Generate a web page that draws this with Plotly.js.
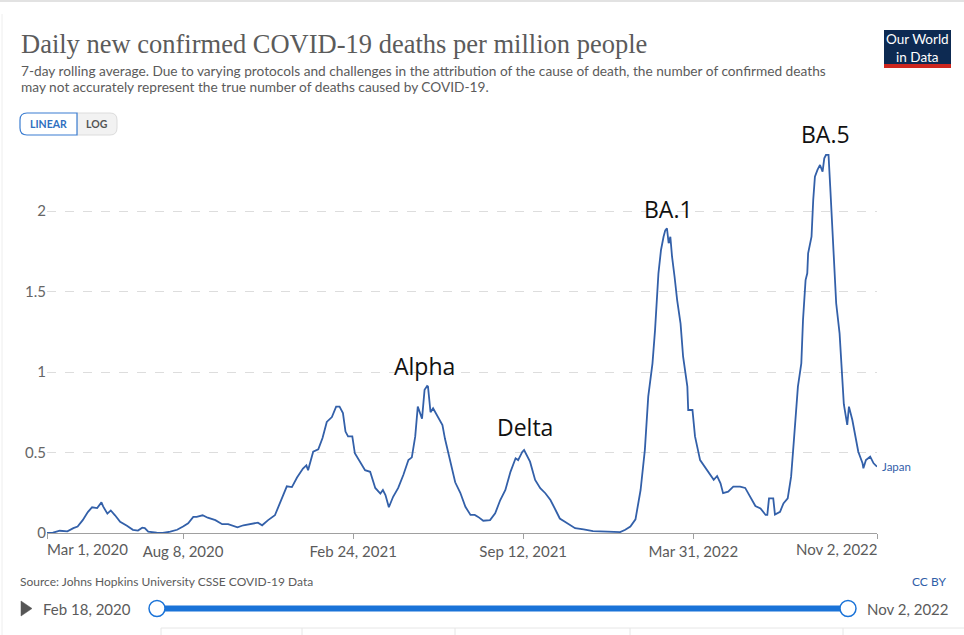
<!DOCTYPE html>
<html><head><meta charset="utf-8">
<script src="https://cdn.plot.ly/plotly-3.0.1.min.js"></script>
<style>html,body{margin:0;padding:0;background:#fff}#chart{width:964px;height:635px}</style>
</head><body><div id="chart"></div>
<script>
const dates = [
'2020-03-01','2020-03-08','2020-03-16','2020-03-25','2020-04-01','2020-04-06','2020-04-12','2020-04-18','2020-04-23','2020-04-29',
'2020-05-04','2020-05-06','2020-05-11','2020-05-15','2020-05-20','2020-05-26','2020-06-03','2020-06-10','2020-06-16','2020-06-21',
'2020-06-24','2020-06-28','2020-07-08','2020-07-15','2020-07-24','2020-08-01','2020-08-08','2020-08-14','2020-08-20','2020-08-24',
'2020-08-31','2020-09-06','2020-09-15','2020-09-23','2020-09-30','2020-10-11','2020-10-18','2020-10-28','2020-11-04','2020-11-09',
'2020-11-16','2020-11-24','2020-11-30','2020-12-08','2020-12-14','2020-12-20','2020-12-27','2020-12-31','2021-01-02','2021-01-08',
'2021-01-14','2021-01-19','2021-01-24','2021-01-30','2021-02-04','2021-02-08','2021-02-12','2021-02-15','2021-02-18','2021-02-23',
'2021-02-26','2021-03-04','2021-03-10','2021-03-16','2021-03-22','2021-03-28','2021-03-31','2021-04-03','2021-04-07','2021-04-12',
'2021-04-18','2021-04-24','2021-04-30','2021-05-04','2021-05-08','2021-05-11','2021-05-16','2021-05-19','2021-05-22','2021-05-23',
'2021-05-26','2021-05-29','2021-06-03','2021-06-09','2021-06-12','2021-06-18','2021-06-24','2021-06-30','2021-07-06','2021-07-12',
'2021-07-17','2021-07-21','2021-07-27','2021-08-04','2021-08-10','2021-08-16','2021-08-22','2021-08-28','2021-09-03','2021-09-06',
'2021-09-11','2021-09-13','2021-09-17','2021-09-20','2021-09-26','2021-10-02','2021-10-08','2021-10-14','2021-10-20','2021-10-25',
'2021-10-31','2021-11-06','2021-11-12','2021-11-22','2021-12-03','2021-12-20','2022-01-04','2022-01-10','2022-01-16','2022-01-22',
'2022-01-28','2022-02-02','2022-02-06','2022-02-11','2022-02-14','2022-02-18','2022-02-21','2022-02-24','2022-02-26','2022-02-28',
'2022-03-02','2022-03-04','2022-03-06','2022-03-09','2022-03-12','2022-03-16','2022-03-19','2022-03-24','2022-03-25','2022-03-30',
'2022-04-02','2022-04-08','2022-04-16','2022-04-24','2022-04-28','2022-05-02','2022-05-05','2022-05-11','2022-05-17','2022-05-25',
'2022-05-31','2022-06-06','2022-06-12','2022-06-18','2022-06-24','2022-06-26','2022-06-28','2022-07-03','2022-07-05','2022-07-11',
'2022-07-15','2022-07-20','2022-07-24','2022-07-27','2022-07-29','2022-08-01','2022-08-05','2022-08-07','2022-08-10','2022-08-12',
'2022-08-13','2022-08-17','2022-08-19','2022-08-21','2022-08-24','2022-08-27','2022-08-30','2022-09-01','2022-09-03','2022-09-06',
'2022-09-08','2022-09-12','2022-09-15','2022-09-19','2022-09-22','2022-09-24','2022-09-28','2022-09-30','2022-10-04','2022-10-08',
'2022-10-11','2022-10-16','2022-10-17','2022-10-20','2022-10-25','2022-10-29','2022-11-02'
];
const deathsPerMillion = [
0,0.002,0.014,0.01,0.03,0.04,0.08,0.13,0.16,0.155,
0.19,0.165,0.12,0.14,0.11,0.07,0.045,0.02,0.015,0.033,
0.03,0.008,0.002,0,0.008,0.02,0.04,0.06,0.1,0.1,
0.11,0.095,0.08,0.055,0.055,0.035,0.048,0.055,0.064,0.048,
0.08,0.11,0.185,0.29,0.285,0.345,0.40,0.42,0.39,0.505,
0.52,0.59,0.69,0.72,0.785,0.785,0.745,0.63,0.6,0.6,
0.495,0.443,0.39,0.38,0.28,0.245,0.267,0.236,0.16,0.225,
0.28,0.36,0.453,0.47,0.6,0.785,0.71,0.89,0.913,0.91,
0.75,0.775,0.73,0.67,0.585,0.44,0.315,0.25,0.163,0.112,
0.112,0.1,0.076,0.08,0.122,0.205,0.267,0.38,0.464,0.453,
0.505,0.515,0.474,0.443,0.33,0.278,0.247,0.205,0.143,0.09,
0.07,0.05,0.03,0.023,0.012,0.008,0.006,0.02,0.04,0.085,
0.267,0.515,0.847,1.054,1.26,1.613,1.758,1.84,1.88,1.893,
1.80,1.84,1.716,1.59,1.447,1.30,1.095,0.909,0.764,0.764,
0.6,0.453,0.39,0.33,0.354,0.309,0.247,0.257,0.288,0.288,
0.28,0.225,0.168,0.153,0.112,0.112,0.215,0.215,0.115,0.132,
0.184,0.215,0.35,0.557,0.722,0.909,1.054,1.323,1.571,1.613,
1.737,1.84,2.068,2.213,2.255,2.286,2.244,2.327,2.348,2.348,
2.151,1.737,1.427,1.24,0.992,0.80,0.671,0.785,0.702,0.578,
0.505,0.433,0.402,0.453,0.474,0.433,0.412
];
const countryName = 'Japan';
const tickDates = ['2020-03-01','2020-08-08','2021-02-24','2021-09-12','2022-03-31','2022-11-02'];
const tickLabels = ['Mar 1, 2020','Aug 8, 2020','Feb 24, 2021','Sep 12, 2021','Mar 31, 2022','Nov 2, 2022'];
const yTicks = [0, 0.5, 1, 1.5, 2];
const yTickLabels = ['0', '0.5', '1', '1.5', '2'];
const variantNames = ['Alpha', 'Delta', 'BA.1', 'BA.5'];
const variantDates = ['2021-05-19', '2021-09-14', '2022-03-02', '2022-09-03'];
const variantLevels = [1.04, 0.66, 2.01, 2.48];
const titleText = 'Daily new confirmed COVID-19 deaths per million people';
const subtitleLines = [
  '7-day rolling average. Due to varying protocols and challenges in the attribution of the cause of death, the number of confirmed deaths',
  'may not accurately represent the true number of deaths caused by COVID-19.'
];
const sourceText = 'Source: Johns Hopkins University CSSE COVID-19 Data';
const timelineStart = 'Feb 18, 2020';
const timelineEnd = 'Nov 2, 2022';

// pixel -> paper helpers (layout only)
const L = 47, R = 877, T = 143, B = 533;
const yMax = (B - T) / 161;
const px = X => (X - L) / (R - L);
const py = Y => (B - Y) / (B - T);

const lineColor = '#3360a9';
const grey = '#5b5b5b';
const blue = '#1a73d8';

const trace = {
  x: dates, y: deathsPerMillion, type: 'scatter', mode: 'lines',
  line: {color: lineColor, width: 1.8}, hoverinfo: 'skip', name: countryName
};

function txt(text, X, Y, opts) {
  return Object.assign({
    text: text, xref: 'paper', yref: 'paper', x: px(X), y: py(Y),
    xanchor: 'left', yanchor: 'middle', showarrow: false,
    font: {family: 'Lato', size: 13, color: grey}
  }, opts || {});
}
function rectP(x0, y0, x1, y1, fill, lineC, lw) {
  return {type: 'rect', xref: 'paper', yref: 'paper', x0: px(x0), x1: px(x1), y0: py(y0), y1: py(y1),
    fillcolor: fill, line: {color: lineC || fill, width: lw === undefined ? 0 : lw}, layer: 'above'};
}
function P(X, Y) { return px(X) + ',' + py(Y); }
function pathP(d, fill, lineC, lw) {
  return {type: 'path', xref: 'paper', yref: 'paper', path: d, fillcolor: fill,
    line: {color: lineC, width: lw}, layer: 'above'};
}
function lineP(x0, y0, x1, y1, c, w) {
  return {type: 'line', xref: 'paper', yref: 'paper', x0: px(x0), x1: px(x1), y0: py(y0), y1: py(y1),
    line: {color: c, width: w}, layer: 'above'};
}

const annotations = [
  txt(titleText, 19, 44, {font: {family: 'Liberation Serif', size: 26.5, color: grey}}),
  txt(subtitleLines[0], 19, 70, {font: {family: 'Lato', size: 13.7, color: grey}}),
  txt(subtitleLines[1], 19, 86, {font: {family: 'Lato', size: 13.7, color: grey}}),
  txt('LINEAR', 48.5, 124, {xanchor: 'center', font: {family: 'Lato', size: 10.5, color: '#2f6fc0', weight: 700}}),
  txt('LOG', 97, 124, {xanchor: 'center', font: {family: 'Lato', size: 10.5, color: '#555', weight: 700}}),
  txt('Our World<br>in Data', 917.5, 47.5, {xanchor: 'center', font: {family: 'Lato', size: 13.5, color: '#ffffff'}}),
  txt(sourceText, 18, 581, {font: {family: 'Lato', size: 12, color: grey}}),
  txt('CC BY', 948, 581, {xanchor: 'right', font: {family: 'Lato', size: 12, color: '#2f5ea8'}}),
  txt(timelineStart, 41, 609, {font: {family: 'Lato', size: 15, color: grey}}),
  txt(timelineEnd, 950, 609, {xanchor: 'right', font: {family: 'Lato', size: 15, color: grey}}),
  {text: tickLabels[0], xref: 'x', yref: 'paper', x: tickDates[0], y: py(549), xanchor: 'left', yanchor: 'middle',
    showarrow: false, xshift: -2, font: {family: 'Lato', size: 15, color: grey}},
  {text: tickLabels[5], xref: 'x', yref: 'paper', x: tickDates[5], y: py(549), xanchor: 'right', yanchor: 'middle',
    showarrow: false, xshift: 2, font: {family: 'Lato', size: 15, color: grey}},
  {text: countryName, xref: 'x', yref: 'y', x: dates[dates.length - 1], y: deathsPerMillion[deathsPerMillion.length - 1],
    xanchor: 'left', yanchor: 'middle', xshift: 3, showarrow: false, font: {family: 'Lato', size: 11.5, color: lineColor}}
];
variantNames.forEach((n, i) => annotations.push({
  text: n, xref: 'x', yref: 'paper', x: variantDates[i], y: variantLevels[i] / yMax, xanchor: 'center', yanchor: 'middle',
  showarrow: false, font: {family: 'Open Sans', size: 23, color: '#111'}
}));

const r = 7;
const shapes = [
  lineP(0, 1, 964, 1, '#e2e2e2', 2),
  lineP(2, 14, 2, 635, '#eeeeee', 1),
  rectP(884, 30, 951, 64, '#0d2a52'),
  rectP(884, 64, 951, 68, '#ce261e'),
  // LOG button (right part, rounded right)
  pathP('M' + P(77, 113) + ' L' + P(117 - r, 113) + ' Q' + P(117, 113) + ' ' + P(117, 113 + r) +
        ' L' + P(117, 135 - r) + ' Q' + P(117, 135) + ' ' + P(117 - r, 135) + ' L' + P(77, 135) + ' Z',
        '#f2f2f2', '#dcdcdc', 1),
  // LINEAR button (left part, rounded left)
  pathP('M' + P(77, 113) + ' L' + P(20 + r, 113) + ' Q' + P(20, 113) + ' ' + P(20, 113 + r) +
        ' L' + P(20, 135 - r) + ' Q' + P(20, 135) + ' ' + P(20 + r, 135) + ' L' + P(77, 135) + ' Z',
        '#ffffff', '#3b7dd1', 1.2),
  // play triangle
  pathP('M' + P(21, 601) + ' L' + P(32, 608.5) + ' L' + P(21, 616) + ' Z', '#555555', '#555555', 0.5),
  // slider
  lineP(157, 608.5, 848, 608.5, blue, 6),
  {type: 'circle', xref: 'paper', yref: 'paper', x0: px(149), x1: px(165), y0: py(600.5), y1: py(616.5),
    fillcolor: '#ffffff', line: {color: blue, width: 1.5}, layer: 'above'},
  {type: 'circle', xref: 'paper', yref: 'paper', x0: px(840), x1: px(856), y0: py(600.5), y1: py(616.5),
    fillcolor: '#ffffff', line: {color: blue, width: 1.5}, layer: 'above'},
  // faint table header lines below
  lineP(161, 628, 964, 628, '#e6e6e6', 1),
  lineP(161, 628, 161, 635, '#e6e6e6', 1),
  lineP(302, 628, 302, 635, '#e6e6e6', 1),
  lineP(455, 628, 455, 635, '#e6e6e6', 1),
  lineP(630, 628, 630, 635, '#e6e6e6', 1),
  lineP(843, 628, 843, 635, '#e6e6e6', 1)
];

const layout = {
  width: 964, height: 635,
  margin: {l: L, r: 964 - R, t: T, b: 635 - B, pad: 0},
  paper_bgcolor: '#ffffff', plot_bgcolor: '#ffffff',
  showlegend: false,
  font: {family: 'Lato', color: grey},
  xaxis: {
    type: 'date', range: [tickDates[0], tickDates[5]],
    tickvals: tickDates, ticktext: ['', tickLabels[1], tickLabels[2], tickLabels[3], tickLabels[4], ''],
    ticks: 'outside', ticklen: 5, tickcolor: '#a0a0a0', tickwidth: 1,
    showline: true, linecolor: '#a0a0a0', linewidth: 1,
    showgrid: false, zeroline: false,
    tickfont: {family: 'Lato', size: 15, color: grey}, fixedrange: true
  },
  yaxis: {
    range: [0, yMax], tickvals: yTicks, ticktext: yTickLabels,
    showgrid: true, gridcolor: '#dddddd', griddash: 'dash', gridwidth: 1,
    zeroline: false, showline: false, ticks: '',
    tickfont: {family: 'Lato', size: 15, color: '#666666'}, fixedrange: true
  },
  annotations: annotations,
  shapes: shapes
};

Plotly.newPlot('chart', [trace], layout, {displayModeBar: false, staticPlot: true});
</script>
</body></html>
